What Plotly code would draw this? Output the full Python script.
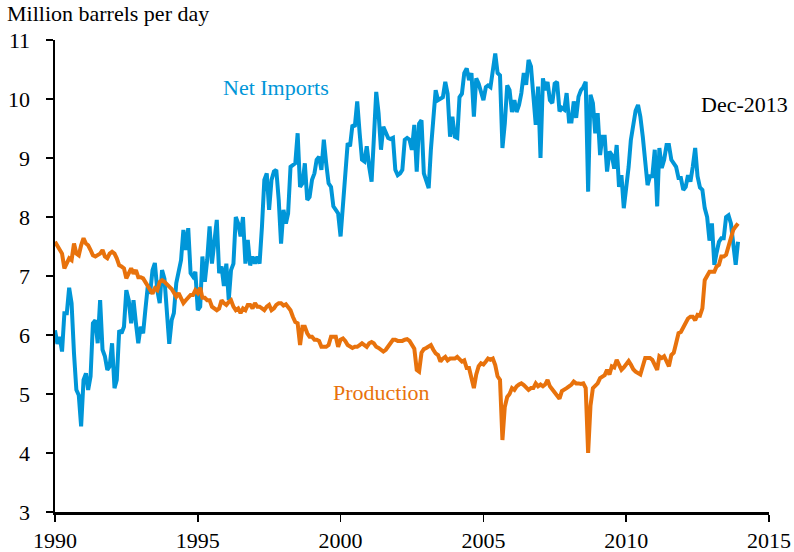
import pandas as pd
import plotly.graph_objects as go

# Monthly values, Jan 1990 - Dec 2013 (million barrels per day)
months = pd.date_range("1990-01-01", periods=288, freq="MS")

net_imports = [
    6.08, 5.85, 5.97, 5.72, 6.37, 6.37, 6.80, 6.54, 5.69, 5.07, 4.98, 4.45,
    5.24, 5.35, 5.07, 5.30, 6.20, 6.25, 5.86, 6.59, 5.75, 5.64, 5.41, 5.47,
    5.86, 5.10, 5.24, 6.08, 6.03, 6.14, 6.76, 6.59, 6.20, 6.59, 6.20, 5.86,
    6.14, 6.03, 6.42, 6.82, 6.70, 7.10, 7.22, 6.76, 6.54, 7.10, 6.95, 6.50,
    5.85, 6.25, 6.37, 6.88, 7.10, 7.27, 7.78, 7.44, 7.81, 7.05, 6.99, 7.07,
    6.42, 6.48, 7.33, 6.90, 7.27, 7.84, 7.21, 7.55, 7.95, 7.05, 7.16, 6.83,
    7.21, 6.59, 7.10, 7.21, 8.00, 7.89, 7.67, 8.00, 7.21, 7.61, 7.18, 7.33,
    7.21, 7.33, 7.21, 7.84, 8.63, 8.74, 8.12, 8.63, 8.77, 8.80, 8.29, 7.55,
    8.12, 7.89, 8.06, 8.85, 8.88, 8.91, 9.42, 8.51, 8.57, 8.91, 8.29, 8.34,
    8.63, 8.74, 8.97, 9.02, 8.80, 9.31, 8.91, 8.57, 8.51, 8.18, 8.12, 8.06,
    7.67, 8.18, 8.74, 9.25, 9.20, 9.56, 9.53, 9.96, 9.42, 8.97, 8.94, 9.20,
    8.85, 8.60, 9.31, 10.12, 9.76, 9.14, 9.53, 9.42, 9.34, 9.32, 9.34, 8.80,
    8.71, 8.74, 8.80, 9.31, 9.34, 9.31, 9.14, 9.56, 8.77, 9.58, 9.64, 8.74,
    8.63, 8.49, 9.14, 9.70, 10.15, 9.98, 10.00, 10.03, 10.29, 10.09, 9.36, 9.70,
    9.36, 9.34, 10.03, 10.09, 10.44, 10.52, 10.32, 10.44, 9.70, 10.35, 10.26, 10.09,
    9.98, 10.20, 10.23, 10.20, 10.44, 10.77, 10.44, 10.40, 9.17, 9.58, 10.23, 10.15,
    9.78, 9.98, 9.78, 9.90, 10.10, 10.44, 10.24, 10.66, 10.55, 9.98, 9.56, 10.21,
    9.00, 10.35, 10.15, 10.29, 9.98, 9.93, 10.26, 10.29, 9.79, 9.85, 9.82, 10.10,
    9.62, 9.62, 9.96, 9.68, 10.04, 10.15, 10.20, 10.29, 8.43, 10.07, 9.93, 9.42,
    9.76, 9.05, 9.36, 9.36, 8.77, 9.11, 9.05, 8.82, 9.22, 8.51, 8.71, 8.15,
    8.48, 8.85, 9.30, 9.62, 9.80, 9.90, 9.70, 9.36, 8.97, 8.54, 8.69, 8.69,
    9.14, 8.18, 9.17, 8.83, 8.97, 9.22, 9.22, 8.97, 8.91, 8.85, 8.66, 8.66,
    8.46, 8.51, 8.71, 8.60, 8.85, 9.17, 8.69, 8.50, 8.46, 8.15, 8.00, 7.60,
    7.89, 7.19, 7.39, 7.58, 7.64, 7.64, 8.00, 8.03, 7.89, 7.50, 7.19, 7.58,
]

production = [
    7.58, 7.50, 7.44, 7.38, 7.13, 7.21, 7.30, 7.27, 7.55, 7.38, 7.35, 7.52,
    7.64, 7.55, 7.52, 7.44, 7.35, 7.33, 7.35, 7.38, 7.44, 7.33, 7.30, 7.38,
    7.41, 7.38, 7.30, 7.18, 7.16, 7.13, 6.96, 7.04, 7.13, 7.04, 7.10, 6.98,
    6.98, 6.96, 6.90, 6.84, 6.76, 6.70, 6.79, 6.76, 6.90, 6.93, 6.90, 6.85,
    6.82, 6.78, 6.72, 6.65, 6.71, 6.63, 6.54, 6.59, 6.65, 6.68, 6.68, 6.76,
    6.71, 6.80, 6.63, 6.63, 6.59, 6.59, 6.48, 6.45, 6.42, 6.45, 6.59, 6.54,
    6.51, 6.56, 6.59, 6.48, 6.42, 6.45, 6.37, 6.45, 6.42, 6.51, 6.51, 6.45,
    6.54, 6.48, 6.48, 6.45, 6.42, 6.48, 6.51, 6.42, 6.45, 6.51, 6.54, 6.54,
    6.50, 6.52, 6.48, 6.42, 6.31, 6.22, 6.20, 5.83, 6.14, 6.14, 6.03, 5.97,
    5.97, 5.92, 5.92, 5.90, 5.80, 5.80, 5.80, 5.83, 5.97, 5.97, 5.97, 5.80,
    5.92, 5.94, 5.90, 5.83, 5.80, 5.78, 5.80, 5.80, 5.83, 5.86, 5.83, 5.80,
    5.86, 5.88, 5.86, 5.80, 5.78, 5.75, 5.72, 5.75, 5.80, 5.86, 5.92, 5.92,
    5.90, 5.90, 5.90, 5.92, 5.93, 5.90, 5.83, 5.77, 5.41, 5.38, 5.70, 5.76,
    5.78, 5.80, 5.83, 5.75, 5.69, 5.66, 5.55, 5.60, 5.63, 5.57, 5.60, 5.60,
    5.60, 5.63, 5.60, 5.55, 5.57, 5.44, 5.44, 5.27, 5.10, 5.33, 5.47, 5.52,
    5.50, 5.55, 5.60, 5.58, 5.60, 5.49, 5.30, 5.24, 4.22, 4.78, 4.95, 5.00,
    5.10, 5.07, 5.13, 5.16, 5.18, 5.15, 5.10, 5.07, 5.10, 5.10, 5.18, 5.13,
    5.16, 5.13, 5.16, 5.24, 5.13, 5.07, 5.02, 4.97, 4.92, 5.05, 5.07, 5.10,
    5.13, 5.16, 5.21, 5.18, 5.18, 5.17, 5.18, 5.10, 4.00, 4.80, 5.10, 5.13,
    5.18, 5.27, 5.30, 5.32, 5.41, 5.33, 5.47, 5.45, 5.58, 5.50, 5.41, 5.45,
    5.50, 5.56, 5.50, 5.42, 5.38, 5.36, 5.33, 5.47, 5.61, 5.61, 5.61, 5.58,
    5.50, 5.41, 5.64, 5.61, 5.64, 5.55, 5.47, 5.66, 5.70, 5.86, 6.03, 6.05,
    6.14, 6.22, 6.28, 6.31, 6.31, 6.25, 6.34, 6.33, 6.45, 6.93, 7.02, 7.07,
    7.07, 7.07, 7.16, 7.19, 7.33, 7.33, 7.36, 7.50, 7.67, 7.78, 7.84, 7.89,
]

year_ticks = ["1990", "1995", "2000", "2005", "2010", "2015"]
y_ticks = [3, 4, 5, 6, 7, 8, 9, 10, 11]

BLUE = "#0096D8"
ORANGE = "#E8720C"
FONT = "Liberation Serif, Times New Roman, serif"

fig = go.Figure()
fig.add_trace(go.Scatter(x=months, y=net_imports, mode="lines",
                         line=dict(color=BLUE, width=4), name="Net Imports"))
fig.add_trace(go.Scatter(x=months, y=production, mode="lines",
                         line=dict(color=ORANGE, width=4), name="Production"))

fig.update_layout(
    width=794, height=552,
    margin=dict(l=55, r=25, t=40, b=40, autoexpand=False),
    paper_bgcolor="white", plot_bgcolor="white",
    showlegend=False,
    font=dict(family=FONT, size=22, color="black"),
    xaxis=dict(
        type="date",
        range=["1990-01-01", "2015-01-01"],
        tickvals=[f"{y}-01-01" for y in year_ticks],
        ticktext=year_ticks,
        ticks="outside", ticklen=7, tickwidth=1.5, tickcolor="black",
        showline=True, linecolor="black", linewidth=2.5,
        showgrid=False, zeroline=False, automargin=False,
        tickfont=dict(family=FONT, size=22, color="black"),
    ),
    yaxis=dict(
        range=[3, 11],
        tickvals=y_ticks,
        ticks="outside", ticklen=7, tickwidth=1.5, tickcolor="black",
        showline=True, linecolor="black", linewidth=2.5,
        showgrid=False, zeroline=False, automargin=False,
        tickfont=dict(family=FONT, size=22, color="black"),
        ticklabelstandoff=11,
    ),
)

fig.add_annotation(text="Million barrels per day", xref="paper", yref="paper",
                   x=(5 - 55) / 714, y=(512 - 14) / 472, xanchor="left", yanchor="middle",
                   showarrow=False, font=dict(family=FONT, size=22, color="black"))
fig.add_annotation(text="Net Imports", xref="paper", yref="paper",
                   x=(276 - 55) / 714, y=(512 - 88) / 472,
                   xanchor="center", yanchor="middle",
                   showarrow=False, font=dict(family=FONT, size=22, color=BLUE))
fig.add_annotation(text="Production", xref="paper", yref="paper",
                   x=(381 - 55) / 714, y=(512 - 392) / 472,
                   xanchor="center", yanchor="middle",
                   showarrow=False, font=dict(family=FONT, size=22, color=ORANGE))
fig.add_annotation(text="Dec-2013", xref="paper", yref="paper",
                   x=(744 - 55) / 714, y=(512 - 105) / 472,
                   xanchor="center", yanchor="middle",
                   showarrow=False, font=dict(family=FONT, size=22, color="black"))

fig.write_html(
    "out.html",
    config={"displayModeBar": False, "staticPlot": True},
    post_script="document.body.style.margin='0';document.body.style.overflow='hidden';",
)
